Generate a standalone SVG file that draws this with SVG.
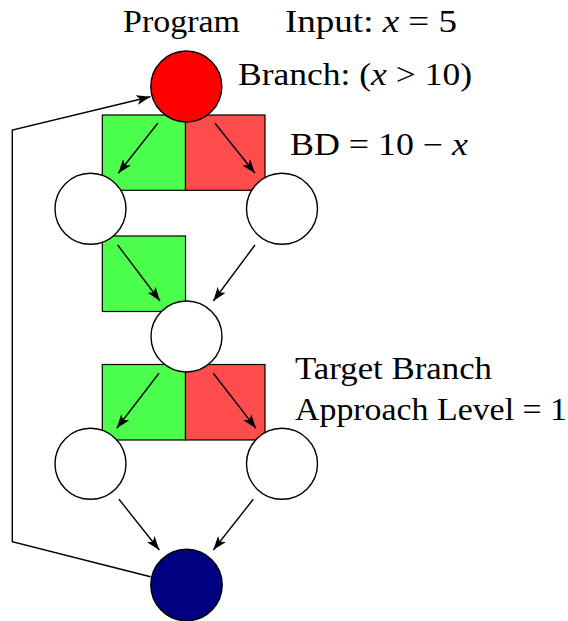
<svg xmlns="http://www.w3.org/2000/svg" width="568" height="621" viewBox="0 0 568 621">
<style>
.t{font-family:"Liberation Serif","DejaVu Serif",serif;font-size:31px;fill:#000}
.m{font-style:italic}
.node{stroke:#000;stroke-width:1.4}
.box{stroke:#000;stroke-width:1.2}
.g{fill:#4dff4d}
.r{fill:#ff4d4d}
.e{fill:none;stroke:#000;stroke-width:1.4}
</style>
<defs>
<marker id="ah" viewBox="0 0 14 10" refX="14" refY="5" markerWidth="14" markerHeight="10" markerUnits="userSpaceOnUse" orient="auto">
<path d="M0,0 L14,5 L0,10 L3.5,5 Z" fill="#000"/>
</marker>
</defs>
<rect width="568" height="621" fill="#fff"/>
<g id="regions">
<rect class="box g" x="102.3" y="115" width="83.2" height="75.3"/>
<rect class="box r" x="185.5" y="115" width="79.5" height="75.3"/>
<rect class="box g" x="102.3" y="236" width="83.2" height="75.5"/>
<rect class="box g" x="102.3" y="364.5" width="83.2" height="75.5"/>
<rect class="box r" x="185.5" y="364.5" width="79.5" height="75.5"/>
</g>
<g id="connectors">
<line class="e" x1="157.7" y1="123.3" x2="118.3" y2="173.3" marker-end="url(#ah)"/>
<line class="e" x1="215" y1="123.3" x2="255" y2="173.3" marker-end="url(#ah)"/>
<line class="e" x1="117.7" y1="245" x2="160" y2="301" marker-end="url(#ah)"/>
<line class="e" x1="255" y1="245" x2="213.3" y2="301" marker-end="url(#ah)"/>
<line class="e" x1="159" y1="373.3" x2="116.7" y2="428.3" marker-end="url(#ah)"/>
<line class="e" x1="213.3" y1="373.3" x2="256" y2="428.3" marker-end="url(#ah)"/>
<line class="e" x1="119" y1="499.3" x2="159.3" y2="550" marker-end="url(#ah)"/>
<line class="e" x1="253.3" y1="499.3" x2="213.3" y2="550" marker-end="url(#ah)"/>
<path class="e" d="M150.5,576.7 L12.3,541.7 L12.3,130 L150.4,96.7" marker-end="url(#ah)"/>
</g>
<g id="n_branch"><circle class="node" cx="186.3" cy="86.5" r="35.5" fill="#ff0000"/></g>
<g id="n_left1"><circle class="node" cx="90.5" cy="208.8" r="35.5" fill="#fff"/></g>
<g id="n_right1"><circle class="node" cx="282" cy="208.8" r="35.5" fill="#fff"/></g>
<g id="n_mid"><circle class="node" cx="186.5" cy="336.5" r="35.5" fill="#fff"/></g>
<g id="n_left2"><circle class="node" cx="90.5" cy="463.8" r="35.5" fill="#fff"/></g>
<g id="n_right2"><circle class="node" cx="282" cy="463.8" r="35.5" fill="#fff"/></g>
<g id="n_exit"><circle class="node" cx="186.5" cy="585" r="35.7" fill="#000080"/></g>
<g id="labels">
<text class="t" x="123" y="32.3" textLength="117" lengthAdjust="spacingAndGlyphs">Program</text>
<text class="t" x="285" y="32.3" textLength="172" lengthAdjust="spacingAndGlyphs">Input: <tspan class="m">x</tspan> = 5</text>
<text class="t" x="238" y="85" textLength="234" lengthAdjust="spacingAndGlyphs">Branch: (<tspan class="m">x</tspan> &gt; 10)</text>
<text class="t" x="290" y="155" textLength="178" lengthAdjust="spacingAndGlyphs">BD = 10 − <tspan class="m">x</tspan></text>
<text class="t" x="295" y="379" textLength="197" lengthAdjust="spacingAndGlyphs">Target Branch</text>
<text class="t" x="295" y="420" textLength="272" lengthAdjust="spacingAndGlyphs">Approach Level = 1</text>
</g>
</svg>
